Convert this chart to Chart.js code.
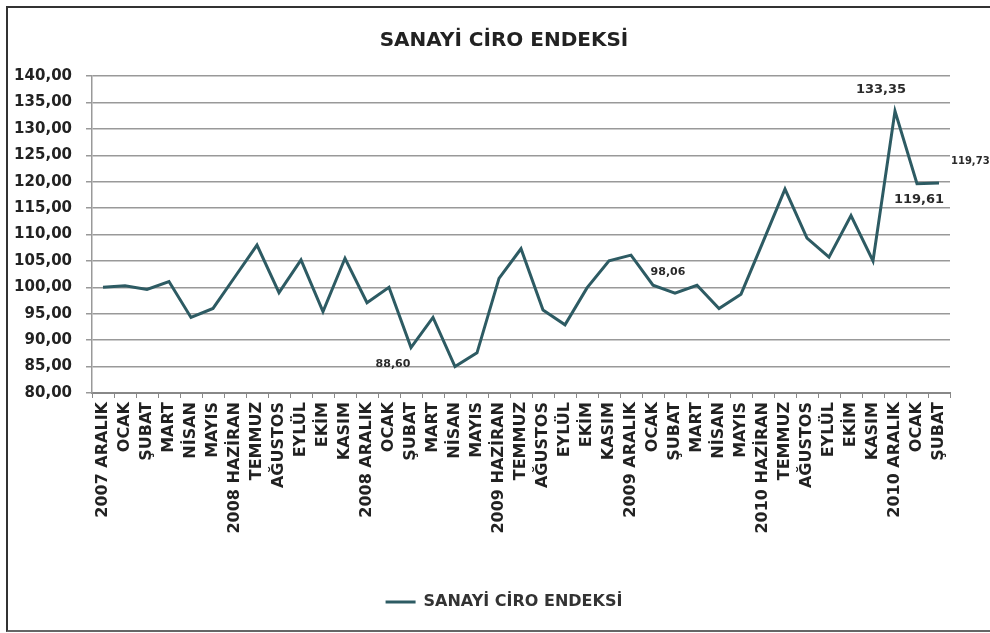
<!DOCTYPE html>
<html>
<head>
<meta charset="utf-8">
<script src="https://cdn.jsdelivr.net/npm/chart.js@4.4.1/dist/chart.umd.min.js"></script>
<style>
  html, body { margin: 0; padding: 0; background: #fff; overflow: hidden; }
  #wrap { position: relative; width: 990px; height: 633px; overflow: hidden; }
  #frame { position: absolute; left: 6px; top: 6px; width: 1100px; height: 622px;
           border-left: 2px solid #333; border-top: 2px solid #333; border-bottom: 2px solid #666;
           border-right: none; pointer-events: none; }
  canvas { display: block; }
</style>
</head>
<body>
<div id="wrap">
  <canvas id="c" width="990" height="633"></canvas>
  <div id="frame"></div>
</div>
<script>
const TITLE = 'SANAYİ CİRO ENDEKSİ';
const SERIES_NAME = 'SANAYİ CİRO ENDEKSİ';
const categories = ['2007 ARALIK','OCAK','ŞUBAT','MART','NİSAN','MAYIS','2008 HAZİRAN','TEMMUZ','AĞUSTOS','EYLÜL','EKİM','KASIM',
  '2008 ARALIK','OCAK','ŞUBAT','MART','NİSAN','MAYIS','2009 HAZİRAN','TEMMUZ','AĞUSTOS','EYLÜL','EKİM','KASIM',
  '2009 ARALIK','OCAK','ŞUBAT','MART','NİSAN','MAYIS','2010 HAZİRAN','TEMMUZ','AĞUSTOS','EYLÜL','EKİM','KASIM',
  '2010 ARALIK','OCAK','ŞUBAT'];
const values = [100.0, 100.3, 99.6, 101.1, 94.3, 96.0, 102.0, 108.0, 99.0, 105.2, 95.4, 105.5,
  97.1, 100.0, 88.6, 94.3, 85.0, 87.6, 101.7, 107.3, 95.7, 92.9, 99.9, 105.0,
  106.1, 100.4, 98.9, 100.4, 96.0, 98.7, 108.6, 118.6, 109.3, 105.7, 113.6, 105.0,
  133.35, 119.61, 119.73];
const yMin = 80, yMax = 140, yStep = 5;
// value labels shown on the chart: [point index, text]
const labelIdx = [14, 26, 36, 37, 38];
const labelText = ['88,60', '98,06', '133,35', '119,61', '119,73'];

const FONT = "'DejaVu Sans', sans-serif";
const valueLabels = {
  id: 'valueLabels',
  afterDatasetsDraw(chart) {
    const meta = chart.getDatasetMeta(0);
    const ctx = chart.ctx;
    const styles = {
      14: { dx: -18, dy: 17, size: 11, align: 'center' },
      26: { dx: -7, dy: -21, size: 11, align: 'center' },
      36: { dx: -14, dy: -22, size: 13, align: 'center' },
      37: { dx: 2, dy: 16, size: 13, align: 'center' },
      38: { dx: 12, dy: -22, size: 10, align: 'left' }
    };
    ctx.save();
    labelIdx.forEach((idx, k) => {
      const p = meta.data[idx];
      const s = styles[idx];
      ctx.font = 'bold ' + s.size + 'px ' + FONT;
      ctx.fillStyle = '#2a2a2a';
      ctx.textAlign = s.align;
      ctx.textBaseline = 'middle';
      ctx.fillText(labelText[k], p.x + s.dx, p.y + s.dy);
    });
    ctx.restore();
  }
};

new Chart(document.getElementById('c'), {
  type: 'line',
  data: {
    labels: categories,
    datasets: [{
      label: SERIES_NAME,
      data: values,
      borderColor: '#2d5b63',
      backgroundColor: '#2d5b63',
      borderWidth: 3,
      pointRadius: 0,
      tension: 0,
      fill: false
    }]
  },
  options: {
    responsive: false,
    animation: false,
    devicePixelRatio: 1,
    layout: { padding: { left: 10, right: -8, top: 6, bottom: 13 } },
    plugins: {
      title: {
        display: true,
        text: TITLE,
        color: '#222',
        font: { family: FONT, size: 20, weight: 'bold' },
        padding: { top: 23, bottom: 23 }
      },
      legend: {
        position: 'bottom',
        labels: {
          usePointStyle: true,
          pointStyle: 'line',
          pointStyleWidth: 30,
          color: '#333',
          font: { family: FONT, size: 16, weight: 'bold' },
          padding: 10
        }
      },
      tooltip: { enabled: false }
    },
    scales: {
      x: {
        offset: true,
        grid: { display: true, drawOnChartArea: false, drawTicks: true, tickLength: 5, offset: true, color: '#888' },
        border: { color: '#888', width: 2 },
        ticks: {
          autoSkip: false, minRotation: 90, maxRotation: 90, padding: 4,
          color: '#222', font: { family: FONT, size: 16, weight: 'bold' }
        },
        afterFit(scale) { scale.height = 191; }
      },
      y: {
        min: yMin, max: yMax,
        grid: { color: '#999', lineWidth: 1.5, drawTicks: true, tickLength: 6 },
        border: { color: '#999', width: 1.5 },
        ticks: {
          stepSize: yStep, padding: 14,
          color: '#222', font: { family: FONT, size: 15, weight: 'bold' },
          callback: v => v.toFixed(2).replace('.', ',')
        },
        afterFit(scale) { scale.width = 82; }
      },
      yRight: {
        position: 'right',
        min: yMin, max: yMax,
        display: true,
        grid: { display: false, drawOnChartArea: false },
        border: { display: false },
        ticks: { display: false },
        afterFit(scale) { scale.width = 48; }
      }
    }
  },
  plugins: [valueLabels]
});
</script>
</body>
</html>
